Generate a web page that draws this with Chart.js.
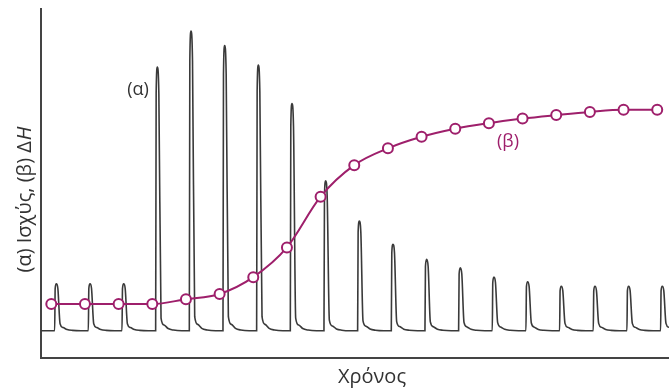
<!DOCTYPE html>
<html>
<head>
<meta charset="utf-8">
<script src="https://cdn.jsdelivr.net/npm/chart.js@4.4.0/dist/chart.umd.min.js"></script>
<style>
  html, body { margin: 0; padding: 0; background: #fff; }
  #wrap { width: 669px; height: 390px; }
</style>
</head>
<body>
<div id="wrap"><canvas id="myChart"></canvas></div>
<script>
// injection number (x position of each (β) point), one per injection
const injections = [0, 1, 2, 3, 4, 5, 6, 7, 8, 9, 10, 11, 12, 13, 14, 15, 16, 17, 18];
// (α) power trace: baseline and peak top of each spike
const powerBaseline = 7.8;
const powerPeaks = [21.2, 21.2, 21.2, 83.1, 93.4, 89.3, 83.7, 72.7, 50.6, 39.1, 32.5, 28.2, 25.8, 23.1, 21.8, 20.5, 20.5, 20.5, 20.5];
// height above baseline where the steep fall of each spike turns into its tail
const powerKnees = [2, 2, 2, 3.6, 4, 4, 4, 3.6, 3, 2.8, 2.6, 2.5, 2.4, 2.3, 2.2, 2.1, 2.1, 2.1, 2.1];
// (β) ΔH points
const deltaH = [15.4, 15.4, 15.4, 15.4, 16.8, 18.3, 23.1, 31.6, 46.1, 55.1, 59.9, 63.2, 65.5, 67.1, 68.4, 69.4, 70.3, 70.9, 70.9];

// spike shape (x in injection intervals after the rise)
const riseOffset = 0.1;
const capDx = [0, 0.015, 0.05, 0.095];
const capLevel = [0, 0.9, 1, 0.9];
const tailDx = [0.16, 0.25, 0.37, 0.53, 0.78];
const tailLevel = [1, 0.45, 0.17, 0.05, 0];

const xMin = -0.306, xMax = 18.35;

function buildTrace() {
  let pts = [{x: xMin, y: powerBaseline}];
  injections.forEach((inj, i) => {
    let x0 = inj + riseOffset;
    let h = powerPeaks[i] - powerBaseline;
    capDx.forEach((dx, k) => pts.push({x: x0 + dx, y: powerBaseline + h * capLevel[k]}));
    tailDx.forEach((dx, k) => pts.push({x: x0 + dx, y: powerBaseline + powerKnees[i] * tailLevel[k]}));
  });
  return pts;
}

const magenta = '#9e1f6b';
const ink = '#3a3a3a';

const axesAndText = {
  id: 'axesAndText',
  beforeDatasetsDraw(chart) {
    const {ctx, chartArea: a} = chart;
    ctx.save();
    ctx.strokeStyle = '#444';
    ctx.lineWidth = 2;
    ctx.beginPath();
    ctx.moveTo(a.left, a.top);
    ctx.lineTo(a.left, a.bottom);
    ctx.lineTo(chart.width, a.bottom);
    ctx.stroke();
    ctx.restore();
  },
  afterDraw(chart) {
    const {ctx} = chart;
    ctx.save();
    // x title
    ctx.fillStyle = '#333';
    ctx.font = '20px "Open Sans"';
    ctx.textAlign = 'center';
    ctx.textBaseline = 'middle';
    ctx.fillText('Χρόνος', 372, 377);
    // series labels
    ctx.font = '18px "Open Sans"';
    ctx.fillText('(α)', 138, 90);
    ctx.fillStyle = magenta;
    ctx.fillText('(β)', 508, 142);
    // y title, with italic H
    ctx.fillStyle = '#333';
    ctx.translate(25, 200);
    ctx.rotate(-Math.PI / 2);
    ctx.textAlign = 'left';
    const part1 = '(α) Ισχύς, (β) Δ';
    ctx.font = '20px "Open Sans"';
    const w1 = ctx.measureText(part1).width;
    ctx.font = 'italic 20px "Open Sans"';
    const w2 = ctx.measureText('H').width;
    let start = -(w1 + w2) / 2;
    ctx.font = '20px "Open Sans"';
    ctx.fillText(part1, start, 0);
    ctx.font = 'italic 20px "Open Sans"';
    ctx.fillText('H', start + w1 + 1, 0);
    ctx.restore();
  }
};

let ctx = document.getElementById('myChart');

new Chart(ctx, {
  type: 'line',
  data: {
    datasets: [
      {
        label: '(β) ΔH',
        data: injections.map((x, i) => ({x: x, y: deltaH[i]})),
        borderColor: magenta,
        borderWidth: 2,
        backgroundColor: '#fff',
        pointBorderColor: magenta,
        pointBackgroundColor: '#fff',
        pointBorderWidth: 2,
        pointRadius: 5,
        cubicInterpolationMode: 'monotone',
        fill: false
      },
      {
        label: '(α) Ισχύς',
        data: buildTrace(),
        borderColor: ink,
        borderWidth: 1.6,
        pointRadius: 0,
        cubicInterpolationMode: 'monotone',
        fill: false
      }
    ]
  },
  options: {
    responsive: true,
    maintainAspectRatio: false,
    animation: false,
    layout: { autoPadding: false, padding: { left: 41, right: 0, top: 8, bottom: 32 } },
    plugins: { legend: { display: false }, tooltip: { enabled: false } },
    scales: {
      x: { type: 'linear', min: xMin, max: xMax, display: false },
      y: { min: 0, max: 100, display: false }
    }
  },
  plugins: [axesAndText]
});
</script>
</body>
</html>
